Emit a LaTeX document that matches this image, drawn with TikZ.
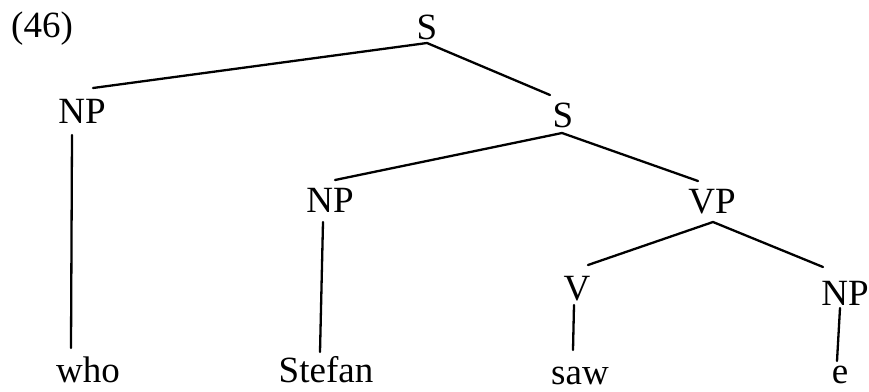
\documentclass[tikz,border=0pt]{standalone}
\usepackage{fontspec}
\setmainfont{Liberation Serif}
\begin{document}
\begin{tikzpicture}[x=1pt,y=-1pt,
  cat/.style={anchor=base, inner sep=0pt, font=\fontsize{37}{40}\selectfont},
  branch/.style={line width=2.3pt, line cap=round}]
\useasboundingbox (0,0) rectangle (869,391);

% example number
\node[cat, anchor=base west] (ex) at (11,37) {(46)};

% category labels
\node[cat] (S1)  at (427,39)  {S};
\node[cat] (NP1) at (82,123)  {NP};
\node[cat] (S2)  at (563,127) {S};
\node[cat] (NP2) at (330,212) {NP};
\node[cat] (VP)  at (712,213) {VP};
\node[cat] (V)   at (577,300) {V};
\node[cat] (NP3) at (845,305) {NP};

% terminal words
\node[cat] (who)    at (88,382)  {who};
\node[cat] (Stefan) at (326,382) {Stefan};
\node[cat] (saw)    at (580,384) {saw};
\node[cat] (e)      at (840,383) {e};

% branch end points
\coordinate (s1b)  at (427,43);
\coordinate (np1t) at (93,88);
\coordinate (s2t)  at (550,95);
\coordinate (s2b)  at (562,133);
\coordinate (np2t) at (335,180);
\coordinate (vpt)  at (698,181);
\coordinate (vpb)  at (713,222);
\coordinate (vt)   at (588,265);
\coordinate (np3t) at (823,267);
\coordinate (np1b) at (72,135);
\coordinate (whot) at (71,348);
\coordinate (np2b) at (323,222);
\coordinate (stt)  at (320,352);
\coordinate (vb)   at (574,305);
\coordinate (sawt) at (573,350);
\coordinate (np3b) at (840,308);
\coordinate (et)   at (837,361);

% branches
\draw[branch] (np1t) -- (s1b) -- (s2t);
\draw[branch] (np2t) -- (s2b) -- (vpt);
\draw[branch] (vt) -- (vpb) -- (np3t);
\draw[branch] (np1b) -- (whot);
\draw[branch] (np2b) -- (stt);
\draw[branch] (vb) -- (sawt);
\draw[branch] (np3b) -- (et);
\end{tikzpicture}
\end{document}
